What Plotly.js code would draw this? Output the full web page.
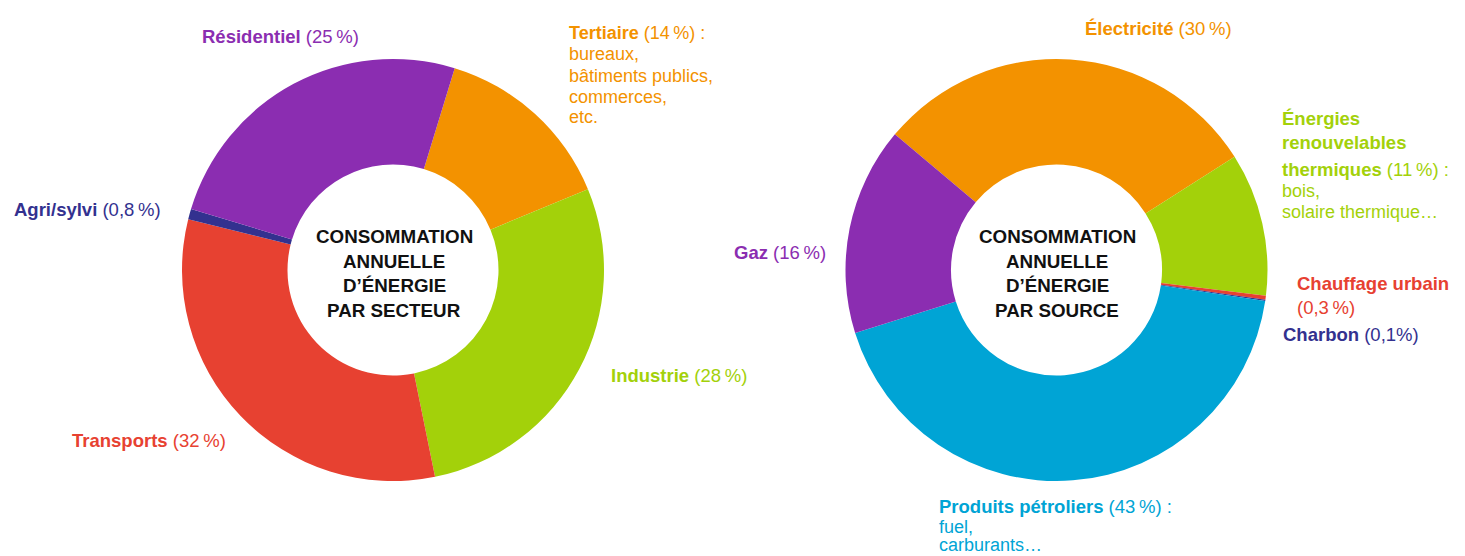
<!DOCTYPE html>
<html>
<head>
<meta charset="utf-8">
<script src="https://cdn.plot.ly/plotly-3.0.1.min.js"></script>
<style>
  html, body { margin: 0; padding: 0; background: #ffffff; }
  #chart { width: 1465px; height: 556px; }
</style>
</head>
<body>
<div id="chart"></div>
<script>
// ---- Data: consommation par secteur ----
var sectorLabels = ['Tertiaire', 'Industrie', 'Transports', 'Agri/sylvi', 'Résidentiel'];
var sectorValues = [14, 28, 32, 0.8, 25];
var sectorPct = ['(14\u202f%) :', '(28\u202f%)', '(32\u202f%)', '(0,8\u202f%)', '(25\u202f%)'];
var sectorDetails = [['bureaux,', 'bâtiments publics,', 'commerces,', 'etc.'], [], [], [], []];

// ---- Data: consommation par source ----
var sourceLabels = ['Électricité', 'Énergies renouvelables thermiques', 'Chauffage urbain', 'Charbon', 'Produits pétroliers', 'Gaz'];
var sourceValues = [30, 11, 0.3, 0.1, 43, 16];
var sourcePct = ['(30\u202f%)', '(11\u202f%) :', '(0,3\u202f%)', '(0,1%)', '(43\u202f%) :', '(16\u202f%)'];
var sourceDetails = [[], ['bois,', 'solaire thermique…'], [], [], ['fuel,', 'carburants…'], []];

var centerLeft = ['CONSOMMATION', 'ANNUELLE', 'D’ÉNERGIE', 'PAR SECTEUR'];
var centerRight = ['CONSOMMATION', 'ANNUELLE', 'D’ÉNERGIE', 'PAR SOURCE'];

// ---- Styles ----
var C = {
  purple: '#8b2db1', orange: '#f39200', green: '#a3d10a',
  red: '#e74131', navy: '#33318f', cyan: '#00a4d5'
};
var sectorColors = [C.orange, C.green, C.red, C.navy, C.purple];
var sourceColors = [C.orange, C.green, C.red, C.navy, C.cyan, C.purple];

var W = 1465, H = 556;
var R = 211;
function dom(cx, cy) {
  return {
    x: [(cx - R) / W, (cx + R) / W],
    y: [(H - cy - R) / H, (H - cy + R) / H]
  };
}

var FONT = 'Liberation Sans, Arial, sans-serif';

var traces = [
  {
    type: 'pie', labels: sectorLabels, values: sectorValues,
    marker: { colors: sectorColors, line: { width: 0 } },
    hole: 0.5, sort: false, direction: 'clockwise', rotation: 17,
    textinfo: 'none', hoverinfo: 'label+percent', showlegend: false,
    domain: dom(393, 270)
  },
  {
    type: 'pie', labels: sourceLabels, values: sourceValues,
    marker: { colors: sourceColors, line: { width: 0 } },
    hole: 0.5, sort: false, direction: 'clockwise', rotation: -50,
    textinfo: 'none', hoverinfo: 'label+percent', showlegend: false,
    domain: dom(1056.5, 270)
  }
];

var ann = [];
function addLine(text, px, py, color, size, anchor) {
  ann.push({
    xref: 'paper', yref: 'paper', x: px / W, y: 1 - py / H,
    xanchor: anchor || 'left', yanchor: 'middle', showarrow: false,
    borderpad: 0, borderwidth: 0,
    text: text, font: { family: FONT, size: size || 18, color: color }
  });
}

// Sector labels
addLine('<b>' + sectorLabels[4] + '</b> ' + sectorPct[4], 202, 36, C.purple, 18.5);
addLine('<b>' + sectorLabels[0] + '</b> ' + sectorPct[0], 569, 33, C.orange);
var tY = [54, 76, 97, 117];
sectorDetails[0].forEach(function (t, i) { addLine(t, 569, tY[i], C.orange); });
addLine('<b>' + sectorLabels[3] + '</b> ' + sectorPct[3], 14, 209, C.navy, 18.5);
addLine('<b>' + sectorLabels[2] + '</b> ' + sectorPct[2], 72, 440, C.red, 18.5);
addLine('<b>' + sectorLabels[1] + '</b> ' + sectorPct[1], 611, 375, C.green, 18.5);

// Source labels
addLine('<b>' + sourceLabels[0] + '</b> ' + sourcePct[0], 1085, 28, C.orange, 18.5);
var enr = sourceLabels[1].split(' ');
addLine('<b>' + enr[0] + '</b>', 1282, 118, C.green, 18.5);
addLine('<b>' + enr[1] + '</b>', 1282, 143, C.green, 18.5);
addLine('<b>' + enr[2] + '</b> ' + sourcePct[1], 1282, 169, C.green, 18.5);
addLine(sourceDetails[1][0], 1282, 191, C.green);
addLine(sourceDetails[1][1], 1282, 212, C.green);
addLine('<b>' + sourceLabels[5] + '</b> ' + sourcePct[5], 734, 252, C.purple, 18.5);
addLine('<b>' + sourceLabels[2] + '</b>', 1297, 283, C.red, 18.5);
addLine(sourcePct[2], 1297, 307, C.red, 18.5);
addLine('<b>' + sourceLabels[3] + '</b> ' + sourcePct[3], 1283, 334, C.navy, 18.5);
addLine('<b>' + sourceLabels[4] + '</b> ' + sourcePct[4], 939, 506, C.cyan, 18.5);
addLine(sourceDetails[4][0], 939, 527, C.cyan);
addLine(sourceDetails[4][1], 939, 545, C.cyan);

// Center texts
var cY = [236.5, 261.5, 285.5, 310.5];
centerLeft.forEach(function (t, i) { addLine('<b>' + t + '</b>', 394, cY[i], '#111111', 18.8, 'center'); });
centerRight.forEach(function (t, i) { addLine('<b>' + t + '</b>', 1057, cY[i], '#111111', 18.8, 'center'); });

var layout = {
  width: W, height: H,
  margin: { l: 0, r: 0, t: 0, b: 0 },
  paper_bgcolor: '#ffffff', plot_bgcolor: '#ffffff',
  showlegend: false,
  annotations: ann,
  font: { family: FONT }
};

Plotly.newPlot('chart', traces, layout, { staticPlot: true, displayModeBar: false });
</script>
</body>
</html>
